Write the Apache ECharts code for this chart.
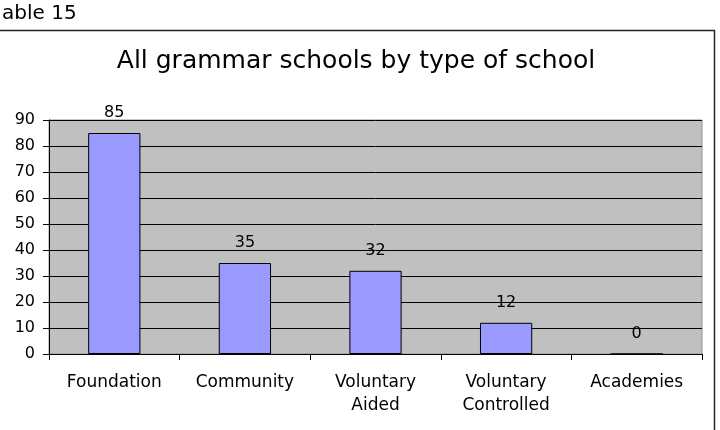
<!DOCTYPE html>
<html>
<head>
<meta charset="utf-8">
<script src="https://cdn.jsdelivr.net/npm/echarts@6/dist/echarts.min.js"></script>
<style>
html, body { margin: 0; padding: 0; background: #fff; }
#bar { width: 720px; height: 430px; }
</style>
</head>
<body>
<div id="bar"></div>
<script>
var categories = ['Foundation', 'Community', 'Voluntary\nAided', 'Voluntary\nControlled', 'Academies'];
var schools = [85, 35, 32, 12, 0];
var yTicks = [0, 10, 20, 30, 40, 50, 60, 70, 80, 90];

var myChart = echarts.init(document.getElementById('bar'));

var option = {
  animation: false,
  textStyle: { fontFamily: 'DejaVu Sans, sans-serif' },
  title: {
    text: 'All grammar schools by type of school',
    left: 351,
    textAlign: 'center',
    top: 44,
    textStyle: { fontSize: 25, fontWeight: 'normal', color: '#000', fontFamily: 'DejaVu Sans' }
  },
  graphic: [
    {
      type: 'text', left: 2, top: 4,
      style: { text: 'able 15', fontSize: 20, fill: '#000', fontFamily: 'DejaVu Sans' }
    },
    {
      type: 'polyline', silent: true,
      shape: { points: [[0, 30.5], [714.5, 30.5], [714.5, 430]] },
      style: { stroke: '#222', lineWidth: 1.5, fill: null }
    }
  ],
  grid: {
    left: 49,
    right: 18,
    top: 120,
    bottom: 76,
    show: true,
    backgroundColor: '#C0C0C0',
    borderColor: '#909090',
    borderWidth: 1
  },
  xAxis: {
    type: 'category',
    data: categories,
    axisLine: { lineStyle: { color: '#000', width: 1 } },
    axisTick: { show: true, length: 6, alignWithLabel: false, lineStyle: { color: '#000' } },
    axisLabel: { fontSize: 17, color: '#000', margin: 17, lineHeight: 23 }
  },
  yAxis: {
    type: 'value',
    min: yTicks[0],
    max: yTicks[yTicks.length - 1],
    interval: 10,
    axisLine: { show: true, lineStyle: { color: '#000', width: 1 } },
    axisTick: { show: true, length: 6, lineStyle: { color: '#000' } },
    axisLabel: { fontSize: 16, color: '#000', margin: 14 },
    splitLine: { show: true, lineStyle: { color: '#000', width: 1 } }
  },
  series: [
    {
      name: 'schools',
      type: 'bar',
      data: schools,
      barCategoryGap: '60%',
      itemStyle: { color: '#9999FF', borderColor: '#000', borderWidth: 1 },
      label: { show: true, position: 'top', fontSize: 16, color: '#000', distance: 12 }
    }
  ]
};

myChart.setOption(option);
</script>
</body>
</html>
